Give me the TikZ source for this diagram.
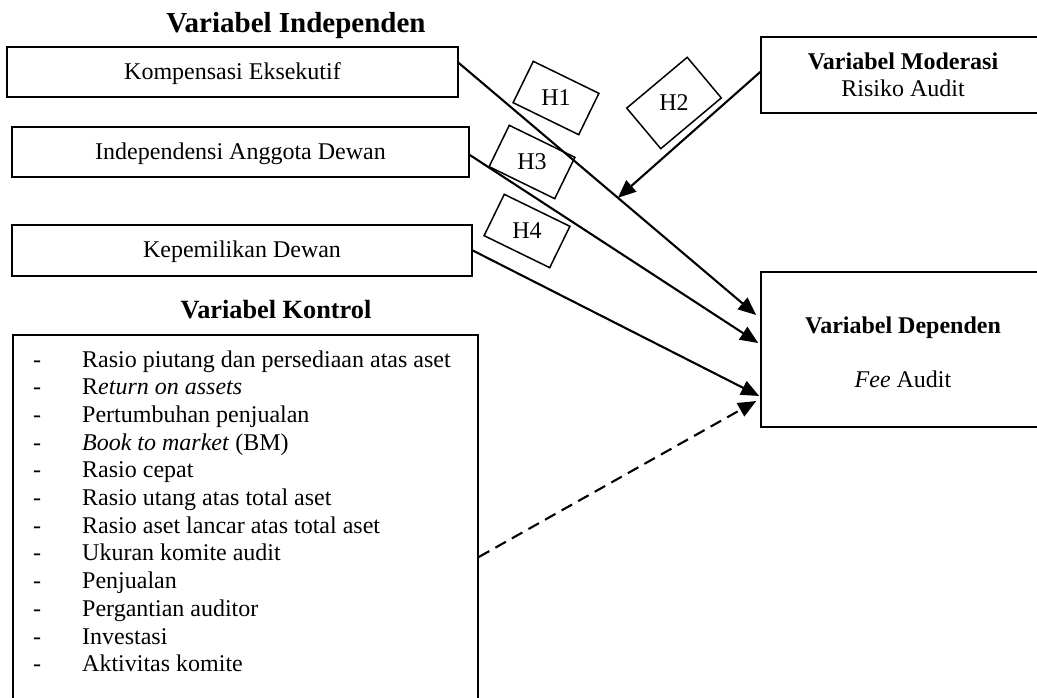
\documentclass[tikz,border=0pt]{standalone}
\usepackage{fontspec}
\setmainfont{Liberation Serif}
\usetikzlibrary{arrows.meta,calc}
\begin{document}
\begin{tikzpicture}[x=1pt,y=-1pt,
  box/.style={draw, line width=1.6pt, inner sep=0pt},
  txt/.style={font=\fontsize{24}{27.7}\selectfont, inner sep=0pt, anchor=base},
  ttl/.style={font=\bfseries\fontsize{24}{27.7}\selectfont, inner sep=0pt, anchor=base},
  hbox/.style={draw, line width=1.5pt, inner sep=0pt},
  arr/.style={line width=2.1pt, -{Triangle[length=18pt,width=15pt]}},
]
\useasboundingbox (0,0) rectangle (1037,698);
\clip (0,0) rectangle (1037,698);

% titles
\node[ttl, font=\bfseries\fontsize{29}{32}\selectfont] (tind) at (296,33) {Variabel Independen};
\node[ttl, font=\bfseries\fontsize{26.3}{30}\selectfont] (tkon) at (276,318) {Variabel Kontrol};

% independent boxes
\node[box, minimum width=451pt, minimum height=50pt] (b1) at (232.5,72) {};
\node[txt] (l1) at (232.5,80) {Kompensasi Eksekutif};
\node[box, minimum width=457pt, minimum height=50pt] (b2) at (240.5,152) {};
\node[txt] (l2) at (240.5,159.5) {Independensi Anggota Dewan};
\node[box, minimum width=460pt, minimum height=51pt] (b3) at (242,250.5) {};
\node[txt] (l3) at (242,258) {Kepemilikan Dewan};

% control box
\node[box, minimum width=465pt, minimum height=380pt] (kontrol) at (245.5,525) {};
\node[txt, anchor=base west] (klist) at (33,367) {%
\begin{tabular}[t]{@{}p{49pt}@{}l@{}}
- & Rasio piutang dan persediaan atas aset\\
- & R\textit{eturn on assets}\\
- & Pertumbuhan penjualan\\
- & \textit{Book to market} (BM)\\
- & Rasio cepat\\
- & Rasio utang atas total aset\\
- & Rasio aset lancar atas total aset\\
- & Ukuran komite audit\\
- & Penjualan\\
- & Pergantian auditor\\
- & Investasi\\
- & Aktivitas komite
\end{tabular}};

% moderating box
\node[box, minimum width=284pt, minimum height=76pt] (mod) at (903,75) {};
\node[ttl] (lm1) at (903,70) {Variabel Moderasi};
\node[txt] (lm2) at (903,97) {Risiko Audit};

% dependent box
\node[box, minimum width=284pt, minimum height=155pt] (dep) at (903,349.5) {};
\node[ttl] (ld1) at (903,333) {Variabel Dependen};
\node[txt] (ld2) at (903,387) {\textit{Fee} Audit};

% hypothesis boxes
\node[hbox, minimum width=73pt, minimum height=46pt, rotate=-26] (h1) at (556,98) {};
\node[txt, anchor=center] at (h1) {H1};
\node[hbox, minimum width=79pt, minimum height=53pt, rotate=40] (h2) at (674,103) {};
\node[txt, anchor=center] at (h2) {H2};
\node[hbox, minimum width=73pt, minimum height=46pt, rotate=-26] (h3) at (532,162) {};
\node[txt, anchor=center] at (h3) {H3};
\node[hbox, minimum width=73pt, minimum height=46pt, rotate=-26] (h4) at (527,231) {};
\node[txt, anchor=center] at (h4) {H4};

% connectors
\coordinate (s1) at ($(b1.east)+(0,-9)$);
\coordinate (e1) at ($(dep.west)+(-4,-34.5)$);
\coordinate (e2) at ($(dep.west)+(-2,-6.5)$);
\coordinate (e3) at ($(dep.west)+(-1,46.5)$);
\coordinate (e4) at ($(dep.west)+(-4,51.5)$);
\draw[arr] (s1) -- (e1);
\draw[arr] ($(b2.east)+(0,3)$) -- (e2);
\draw[arr] (b3.east) -- (e3);
\draw[arr, dash pattern=on 12pt off 7pt] ($(kontrol.east)+(0,32)$) -- (e4);
\draw[arr] ($(mod.west)+(0,-3)$) -- ($(s1)!0.535!(e1)$);
\end{tikzpicture}
\end{document}
